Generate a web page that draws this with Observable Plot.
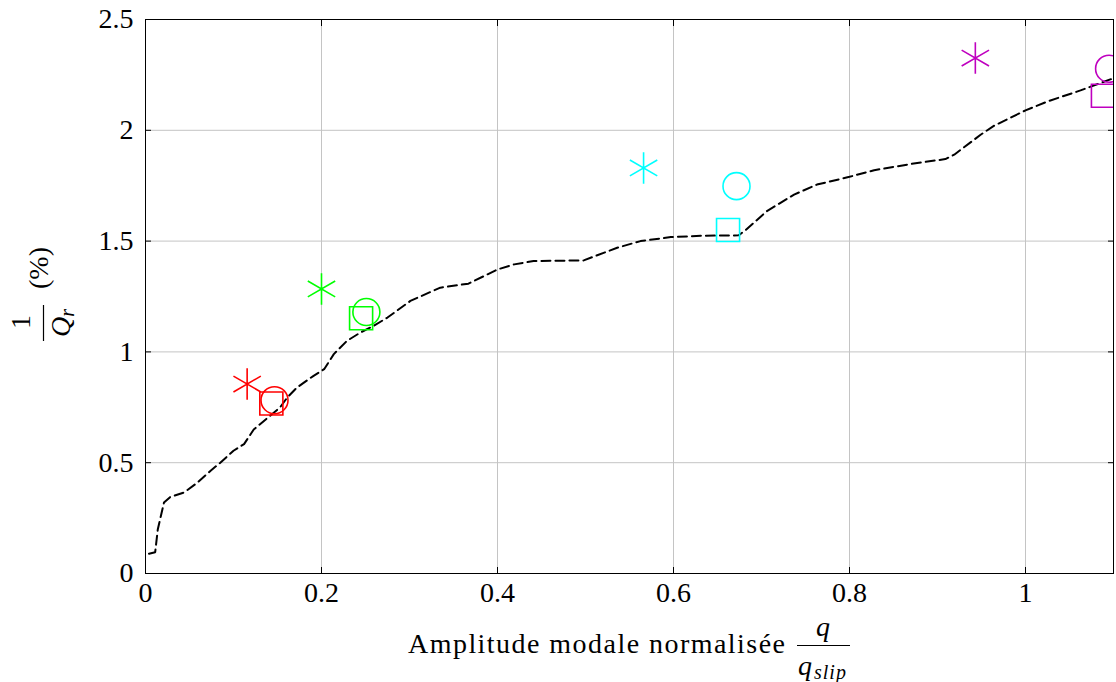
<!DOCTYPE html>
<html><head><meta charset="utf-8">
<script src="https://cdn.jsdelivr.net/npm/d3@7"></script>
<script src="https://cdn.jsdelivr.net/npm/@observablehq/plot@0.6"></script>
<style>body{margin:0;background:#fff} #chart svg{display:block}</style>
</head><body><div id="chart"></div>
<script>
// Dashed reference curve
const curveX = [0.004,0.011,0.014,0.021,0.028,0.032,0.044,0.059,0.074,0.085,0.100,0.112,0.123,0.138,0.153,0.161,0.172,0.191,0.203,0.214,0.229,0.244,0.259,0.275,0.301,0.335,0.367,0.40,0.419,0.441,0.498,0.508,0.536,0.5625,0.597,0.631,0.674,0.682,0.706,0.737,0.763,0.80,0.828,0.873,0.909,0.919,0.949,0.964,1.0,1.025,1.0625,1.1];
const curveY = [0.089,0.096,0.20,0.32,0.345,0.35,0.366,0.41,0.464,0.50,0.554,0.584,0.65,0.70,0.75,0.794,0.839,0.892,0.922,0.99,1.05,1.087,1.117,1.155,1.23,1.29,1.308,1.372,1.395,1.41,1.413,1.428,1.47,1.5,1.518,1.524,1.526,1.55,1.635,1.71,1.755,1.79,1.82,1.85,1.87,1.89,1.98,2.02,2.09,2.13,2.18,2.235];
// Marker groups (red, green, cyan, magenta)
const groupColors = ["#ff0000","#00ff00","#00ffff","#bf00bf"];
const starX = [0.1155, 0.2, 0.566, 0.943];
const starY = [0.855, 1.284, 1.83, 2.326];
const circleX = [0.1466, 0.251, 0.6716, 1.095];
const circleY = [0.782, 1.18, 1.748, 2.278];
const squareX = [0.143, 0.245, 0.662, 1.088];
const squareY = [0.767, 1.152, 1.55, 2.156];
// Ticks
const xTicks = [0, 0.2, 0.4, 0.6, 0.8, 1];
const xTickLabels = ["0","0.2","0.4","0.6","0.8","1"];
const yTicks = [0, 0.5, 1, 1.5, 2, 2.5];
const yTickLabels = ["0","0.5","1","1.5","2","2.5"];

const curve = curveX.map((x, i) => ({x, y: curveY[i]}));
const pts = (xs, ys) => xs.map((x, i) => ({x, y: ys[i], c: groupColors[i]}));
const FONT = "Liberation Serif";
const FS = 28;

const chart = Plot.plot({
  width: 1116, height: 682,
  marginLeft: 145, marginRight: 3, marginTop: 19, marginBottom: 109,
  style: {fontFamily: FONT, fontSize: FS + "px", color: "black", background: "white"},
  x: {domain: [0, 1.1]},
  y: {domain: [0, 2.5]},
  color: {type: "identity"},
  marks: [
    Plot.gridX(xTicks, {stroke: "#c4c4c4", strokeOpacity: 1, strokeWidth: 1}),
    Plot.gridY(yTicks, {stroke: "#c4c4c4", strokeOpacity: 1, strokeWidth: 1}),
    Plot.line(curve, {x: "x", y: "y", stroke: "black", strokeWidth: 2, strokeDasharray: "9,5", clip: true}),
    Plot.dot(pts(starX, starY), {x: "x", y: "y", stroke: "c", symbol: "asterisk", r: 15, strokeWidth: 1.6, clip: true}),
    Plot.dot(pts(circleX, circleY), {x: "x", y: "y", stroke: "c", symbol: "circle", r: 13.5, strokeWidth: 1.6, clip: true}),
    Plot.dot(pts(squareX, squareY), {x: "x", y: "y", stroke: "c", symbol: "square", r: 13, strokeWidth: 1.6, clip: true}),
    Plot.frame({stroke: "black", strokeWidth: 1}),
    Plot.axisX(xTicks, {anchor: "bottom", tickSize: -6, tickFormat: () => "", label: null}),
    Plot.axisX(xTicks, {anchor: "top", tickSize: -6, tickFormat: () => "", label: null}),
    Plot.axisY(yTicks, {anchor: "left", tickSize: -6, tickFormat: () => "", label: null}),
    Plot.axisY(yTicks, {anchor: "right", tickSize: -6, tickFormat: () => "", label: null}),
    Plot.axisX(xTicks, {anchor: "bottom", tickSize: 0, tickPadding: 9, fontFamily: FONT, fontSize: FS, tickFormat: d => xTickLabels[xTicks.indexOf(d)], label: null}),
    Plot.axisY(yTicks, {anchor: "left", tickSize: 0, tickPadding: 12, fontFamily: FONT, fontSize: FS, tickFormat: d => yTickLabels[yTicks.indexOf(d)], label: null})
  ]
});
document.getElementById("chart").appendChild(chart);

const svg = d3.select(chart);
// x axis label with fraction q / q_slip
const xl = svg.append("g").attr("font-family", FONT).attr("fill", "black").attr("text-anchor", "start");
xl.append("text").attr("x", 408).attr("y", 653).attr("font-size", FS).attr("text-anchor", "start")
  .attr("textLength", 377).attr("lengthAdjust", "spacing").text("Amplitude modale normalisée");
xl.append("text").attr("x", 823).attr("y", 636).attr("text-anchor", "middle").attr("font-size", FS).attr("font-style", "italic").text("q");
xl.append("line").attr("x1", 797).attr("x2", 850).attr("y1", 645.5).attr("y2", 645.5).attr("stroke", "black").attr("stroke-width", 1.2);
const qs = xl.append("text").attr("x", 798).attr("y", 675).attr("font-size", FS).attr("font-style", "italic").attr("text-anchor", "start");
qs.append("tspan").text("q");
qs.append("tspan").attr("font-size", 20).attr("dy", 4).attr("dx", 2).attr("letter-spacing", 1).text("slip");

// y axis label 1/Q_r (%) rotated
const yl = svg.append("g").attr("transform", "rotate(-90)").attr("font-family", FONT).attr("fill", "black");
yl.append("text").attr("x", -322).attr("y", 30).attr("text-anchor", "middle").attr("font-size", FS).text("1");
yl.append("line").attr("x1", -341).attr("x2", -305).attr("y1", 43.5).attr("y2", 43.5).attr("stroke", "black").attr("stroke-width", 1.2);
const qr = yl.append("text").attr("x", -323).attr("y", 70).attr("text-anchor", "middle").attr("font-size", FS).attr("font-style", "italic");
qr.append("tspan").text("Q");
qr.append("tspan").attr("font-size", 20).attr("dy", 4).text("r");
yl.append("text").attr("x", -268).attr("y", 48).attr("text-anchor", "middle").attr("font-size", FS).text("(%)");
</script>
</body></html>
